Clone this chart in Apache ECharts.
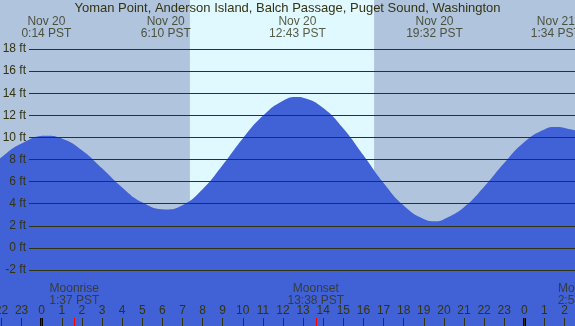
<!DOCTYPE html>
<html lang="en">
<head>
<meta charset="UTF-8">
<title>Tide chart</title>
<script src="https://cdn.jsdelivr.net/npm/echarts@6/dist/echarts.min.js"></script>
<style>html,body{margin:0;padding:0;}</style>
</head>
<body>
<div id="chart_div" style="width: 575px; height: 326px;"></div>
<script type="text/javascript">

// tide height (ft), hours since midnight Nov 20 (PST)
var tideHours = [-3, -2, -1, 0.233, 1, 2, 3, 4, 5, 6.167, 7, 8, 9, 10, 11, 12, 12.717, 13, 14, 15, 16, 17, 18, 19, 19.55, 20, 21, 22, 23, 24, 25, 25.567, 26, 27];
var tideFeet  = [6.5, 8.2, 9.45, 10.15, 9.9, 8.84, 7.2, 5.47, 4.12, 3.47, 3.85, 5.3, 7.49, 9.9, 11.95, 13.31, 13.65, 13.58, 12.66, 10.8, 8.37, 5.87, 3.83, 2.62, 2.42, 2.6, 3.67, 5.52, 7.67, 9.58, 10.72, 10.93, 10.85, 10.4];

// hour ticks along the bottom
var tickHours = [-2, -1, 0, 1, 2, 3, 4, 5, 6, 7, 8, 9, 10, 11, 12, 13, 14, 15, 16, 17, 18, 19, 20, 21, 22, 23, 24, 25, 26];

// high / low tide labels
var extHours = [0.233, 6.167, 12.717, 19.533, 25.567];
var extDates = ['Nov 20', 'Nov 20', 'Nov 20', 'Nov 20', 'Nov 21'];
var extTimes = ['0:14 PST', '6:10 PST', '12:43 PST', '19:32 PST', '1:34 PST'];

// moon events
var moonHours = [1.617, 13.633, 26.9];
var moonNames = ['Moonrise', 'Moonset', 'Moonrise'];
var moonTimes = ['1:37 PST', '13:38 PST', '2:54 PST'];

var sunrise = 7.37, sunset = 16.53;
var midnights = [0, 24];

var ink = '#333311';
var font = 'Liberation Sans';
var X0 = -2.074, X1 = 26.52; // hours at canvas left / right
var Y0 = -7.07, Y1 = 22.43;  // feet at canvas bottom / top

var chart = echarts.init(document.getElementById("chart_div"));
var tide = tideHours.map(function (h, i) { return [h, tideFeet[i]]; });

var options = {
    animation: false,
    backgroundColor: '#b0c4de',
    textStyle: {fontFamily: font},
    title: {
        text: 'Yoman Point, Anderson Island, Balch Passage, Puget Sound, Washington',
        left: 'center', top: 2, padding: 0,
        textStyle: {fontSize: 13, fontWeight: 'normal', color: ink, fontFamily: font}
    },
    grid: [
        {left: 0, right: 0, top: 0, bottom: 0, outerBoundsMode: 'none'},
        {left: 29, right: 0, top: 49, bottom: 56, outerBoundsMode: 'none'},
        {left: 0, right: 0, top: 318, bottom: 0, outerBoundsMode: 'none'}
    ],
    xAxis: [
        {gridIndex: 0, type: 'value', min: X0, max: X1, z: 5,
         axisLine: {show: false, onZero: false}, splitLine: {show: false},
         axisTick: {inside: true, length: 8, customValues: tickHours, lineStyle: {color: ink}},
         axisLabel: {inside: true, margin: 9, color: ink, fontSize: 12, fontFamily: font,
                     customValues: tickHours,
                     formatter: function (v) { return ((v % 24) + 24) % 24; }}},
        {gridIndex: 1, type: 'value', min: 0, max: 1, show: false},
        {gridIndex: 2, type: 'value', min: X0, max: X1, show: false}
    ],
    yAxis: [
        {gridIndex: 0, type: 'value', min: Y0, max: Y1, show: false},
        {gridIndex: 1, type: 'value', min: -2, max: 18, interval: 2, z: 5,
         axisLine: {show: false}, axisTick: {show: false},
         splitLine: {lineStyle: {color: ink, width: 1}},
         axisLabel: {margin: 3, color: ink, fontSize: 12, fontFamily: font, formatter: '{value} ft'}},
        {gridIndex: 2, type: 'value', min: 0, max: 1, show: false}
    ],
    series: [
        {
            type: 'line', xAxisIndex: 0, yAxisIndex: 0, z: 1,
            data: [[X0, Y0]], showSymbol: false, lineStyle: {width: 0},
            markArea: {silent: true, itemStyle: {color: '#e0f8ff'},
                       data: [[{xAxis: sunrise}, {xAxis: sunset}]]}
        },
        {
            type: 'line', xAxisIndex: 0, yAxisIndex: 0, z: 2,
            data: tide, smooth: 0.5, symbol: 'none',
            lineStyle: {width: 0},
            areaStyle: {color: '#4161d7', opacity: 1, origin: 'start'}
        },
        {
            type: 'scatter', xAxisIndex: 0, yAxisIndex: 0, z: 6, symbolSize: 0, clip: false,
            data: extHours.map(function (h) { return [h, Y1]; }),
            label: {show: true, position: 'bottom', distance: 16, color: ink, fontSize: 12,
                    fontFamily: font, lineHeight: 12,
                    formatter: function (p) { return extDates[p.dataIndex] + '\n' + extTimes[p.dataIndex]; }}
        },
        {
            type: 'scatter', xAxisIndex: 0, yAxisIndex: 0, z: 6, symbolSize: 0, clip: false,
            data: moonHours.map(function (h) { return [h, Y0]; }),
            label: {show: true, position: 'top', distance: 19, color: ink, fontSize: 12,
                    fontFamily: font, lineHeight: 12,
                    formatter: function (p) { return moonNames[p.dataIndex] + '\n' + moonTimes[p.dataIndex]; }}
        },
        {
            type: 'line', xAxisIndex: 2, yAxisIndex: 2, z: 6,
            data: [[X0, 0]], showSymbol: false, lineStyle: {width: 0},
            markLine: {
                silent: true, symbol: 'none', label: {show: false},
                data: midnights.map(function (h) { return {xAxis: h, lineStyle: {color: '#000', width: 3, type: 'solid'}}; })
                    .concat(moonHours.map(function (h) { return {xAxis: h, lineStyle: {color: '#ff0000', width: 1, type: 'solid'}}; }))
            }
        }
    ]
};
chart.setOption(options);

</script>
</body>
</html>
